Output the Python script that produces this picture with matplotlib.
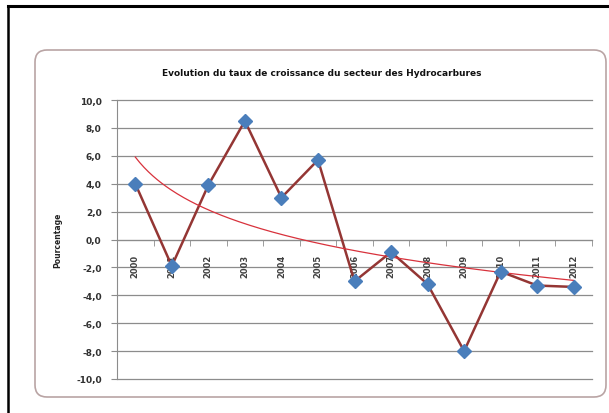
import numpy as np
import matplotlib
matplotlib.use("Agg")
import matplotlib.pyplot as plt
from matplotlib.patches import FancyBboxPatch
from matplotlib.lines import Line2D
from matplotlib.ticker import FuncFormatter

years = ["2000", "2001", "2002", "2003", "2004", "2005", "2006",
         "2007", "2008", "2009", "2010", "2011", "2012"]
growth = [4.0, -1.9, 3.9, 8.5, 3.0, 5.7, -3.0, -0.9, -3.2, -8.0, -2.3, -3.3, -3.4]
yticks = [-10, -8, -6, -4, -2, 0, 2, 4, 6, 8, 10]

title = "Evolution du taux de croissance du secteur des Hydrocarbures"
ylabel = "Pourcentage"

line_col = "#943634"
marker_col = "#4a7ebb"
trend_col = "#d8323c"
grid_col = "#8c8c8c"

fig = plt.figure(figsize=(6.09, 4.14), dpi=100)
fig.patch.set_facecolor("white")

# black frame (left and top edges only visible)
fig.add_artist(Line2D([8 / 609, 8 / 609], [0, 1 - 7 / 414], transform=fig.transFigure,
                      color="black", lw=1.8, zorder=-2))
fig.add_artist(Line2D([8 / 609, 1], [1 - 7 / 414, 1 - 7 / 414], transform=fig.transFigure,
                      color="black", lw=2.2, zorder=-2))

# rounded chart box
box = FancyBboxPatch((0.35, 0.16), 5.71, 3.47, boxstyle="round,pad=0,rounding_size=0.12",
                     transform=fig.dpi_scale_trans, facecolor="white",
                     edgecolor="#b9a4a4", lw=1.2, zorder=-1)
fig.add_artist(box)

ax = fig.add_axes([117 / 609, 1 - 380 / 414, 475 / 609, (380 - 101) / 414])
ax.set_facecolor("none")

x = np.arange(len(years))
y = np.array(growth)

# logarithmic trend line, fitted on ln(1..n) and drawn as a smooth curve
a, b = np.polyfit(np.log(x + 1), y, 1)
xs = np.linspace(0, len(years) - 1, 200)
trend = a * np.log(xs + 1) + b

# horizontal gridlines
for v in yticks:
    ax.axhline(v, color=grid_col, lw=0.9, zorder=1, clip_on=False)

ax.plot(x, y, color=line_col, lw=1.8, zorder=3)
ax.plot(xs, trend, color=trend_col, lw=0.9, zorder=4)
ax.plot(x, y, ls="none", marker="D", ms=6.8, color=marker_col, mec=marker_col, zorder=5)

ax.set_xlim(-0.5, len(years) - 0.5)
ax.set_ylim(-10, 10)
ax.set_yticks(yticks)
ax.yaxis.set_major_formatter(FuncFormatter(lambda v, p: f"{v:.1f}".replace(".", ",")))

for s in ["top", "right"]:
    ax.spines[s].set_visible(False)
ax.spines["left"].set_color(grid_col)
ax.spines["bottom"].set_color(grid_col)
ax.spines["bottom"].set_position(("data", 0))

ax.set_xticks(x)
ax.set_xticklabels(years, rotation=90, fontsize=6, fontweight="bold", color="#404040")
ax.set_xticks(np.arange(-0.5, len(years), 1), minor=True)
ax.tick_params(axis="x", which="major", length=0, pad=10)
ax.tick_params(axis="x", which="minor", length=4, color=grid_col, direction="out")
ax.tick_params(axis="y", length=4, color=grid_col, labelsize=6.5, labelcolor="#303030", pad=7)
for t in ax.get_yticklabels():
    t.set_fontweight("bold")

fig.text(322 / 609, 1 - 74 / 414, title, ha="center", va="center", fontsize=6.5,
         fontweight="bold", color="#111111")
fig.text(58 / 609, 1 - 240 / 414, ylabel, ha="center", va="center", rotation=90,
         fontsize=5.5, fontweight="bold", color="#222222")

fig.savefig("out.png", dpi=100)
